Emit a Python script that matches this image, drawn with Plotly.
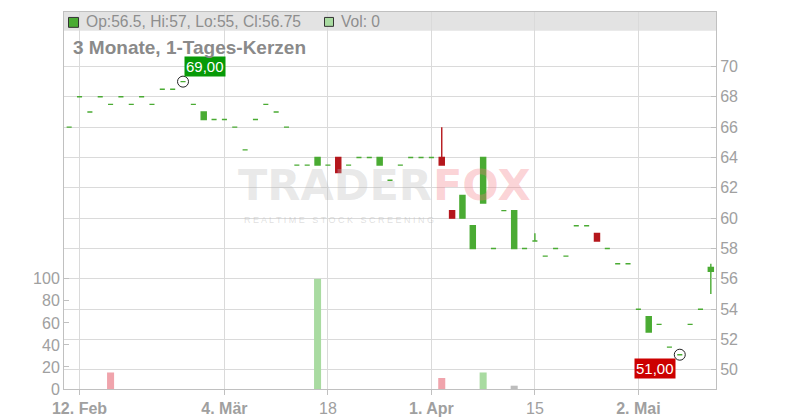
import plotly.graph_objects as go

# ---------------- data ----------------
days = list(range(63))
tick_days = [1, 15, 25, 35, 45, 55]
tick_labels = ["<b>12. Feb</b>", "<b>4. Mär</b>", "18", "<b>1. Apr</b>", "15", "<b>2. Mai</b>"]

open_ = [66, 68, 67, 68, 67.5, 68, 67.5, 68, 67.5, 68.5,
         68.5, 69, 67.5, 66.5, 66.5, 66.5, 66, 64.5, 66.5, 67.5,
         67, 66, 63.5, 63.5, 63.5, 63.5, 64, 63.5, 64, 64,
         63.5, 62.5, 63.5, 64, 64, 64, 64, 60.5, 60, 58,
         61, 58, 60.5, 58, 58, 58.5, 57.5, 58, 57.5, 59.5,
         59.5, 59, 58, 57, 57, 54, 52.5, 53, 51.5, 51,
         53, 54, 56.5]
high = [66, 68, 67, 68, 67.5, 68, 67.5, 68, 67.5, 68.5,
        68.5, 69, 67.5, 67, 66.5, 66.5, 66, 64.5, 66.5, 67.5,
        67, 66, 63.5, 63.5, 64, 63.5, 64, 63.5, 64, 64,
        64, 62.5, 63.5, 64, 64, 64, 66, 60.5, 61.5, 59.5,
        64, 58, 60.5, 60.5, 58, 59, 57.5, 58, 57.5, 59.5,
        59.5, 59, 58, 57, 57, 54, 53.5, 53, 51.5, 51,
        53, 54, 57]
low = [66, 68, 67, 68, 67.5, 68, 67.5, 68, 67.5, 68.5,
       68.5, 69, 67.5, 66.5, 66.5, 66.5, 66, 64.5, 66.5, 67.5,
       67, 66, 63.5, 63.5, 63.5, 63.5, 63, 63.5, 64, 64,
       63.5, 62.5, 63.5, 64, 64, 64, 63.5, 60, 60, 58,
       61, 58, 60.5, 58, 58, 58.5, 57.5, 58, 57.5, 59.5,
       59.5, 58.5, 58, 57, 57, 54, 52.5, 53, 51.5, 51,
       53, 54, 55]
close = [66, 68, 67, 68, 67.5, 68, 67.5, 68, 67.5, 68.5,
         68.5, 69, 67.5, 67, 66.5, 66.5, 66, 64.5, 66.5, 67.5,
         67, 66, 63.5, 63.5, 64, 63.5, 63, 63.5, 64, 64,
         64, 62.5, 63.5, 64, 64, 64, 63.5, 60, 61.5, 59.5,
         64, 58, 60.5, 60.5, 58, 58.5, 57.5, 58, 57.5, 59.5,
         59.5, 58.5, 58, 57, 57, 54, 53.5, 53, 51.5, 51,
         53, 54, 56.75]
volume = [0, 0, 0, 0, 15, 0, 0, 0, 0, 0,
          0, 0, 0, 0, 0, 0, 0, 0, 0, 0,
          0, 0, 0, 0, 100, 0, 0, 0, 0, 0,
          0, 0, 0, 0, 0, 0, 10, 0, 0, 0,
          15, 0, 0, 3, 0, 0, 0, 0, 0, 0,
          0, 0, 0, 0, 0, 0, 0, 0, 0, 0,
          0, 0, 0]
price_ticks = [50, 52, 54, 56, 58, 60, 62, 64, 66, 68, 70]
volume_ticks = [0, 20, 40, 60, 80, 100]

# ---------------- style ----------------
GREEN = "#4aab33"
RED = "#b5171c"
VOL_UP = "#a9dba1"
VOL_DOWN = "#f0a4ac"
VOL_FLAT = "#bdbdbd"
GRID = "#dadada"
AXIS = "#c0c0c0"
TXT = "#999999"
FONT = "Liberation Sans, Arial, sans-serif"

# the page body adds an 8px offset; the figure is sized to fill the rest
OFF = 8
W, H = 800 - OFF, 420 - OFF
L, R, T, B = 64 - OFF, 84, 11 - OFF, 28
PW, PH = W - L - R, H - T - B


def px(x):  # screen pixel -> paper
    return (x - OFF - L) / PW


def py(y):
    return (H + OFF - B - y) / PH


up = [i for i in days if close[i] >= open_[i]]
dn = [i for i in days if close[i] < open_[i]]

fig = go.Figure()


def candle(idx, color):
    fig.add_trace(go.Candlestick(
        x=[days[i] for i in idx],
        open=[open_[i] for i in idx], high=[high[i] for i in idx],
        low=[low[i] for i in idx], close=[close[i] for i in idx],
        increasing=dict(line=dict(color=color, width=1.4), fillcolor=color),
        decreasing=dict(line=dict(color=color, width=1.4), fillcolor=color),
        whiskerwidth=0, showlegend=False, hoverinfo="skip",
        xaxis="x", yaxis="y"))


candle(up, GREEN)
candle(dn, RED)

vol_colors = []
for i in days:
    prev = close[i - 1] if i > 0 else close[i]
    if close[i] > prev:
        vol_colors.append(VOL_UP)
    elif close[i] < prev:
        vol_colors.append(VOL_DOWN)
    else:
        vol_colors.append(VOL_FLAT)

fig.add_trace(go.Bar(x=days, y=volume, marker=dict(color=vol_colors, line=dict(width=0)),
                     width=0.68, yaxis="y2", showlegend=False, hoverinfo="skip"))

# max / min markers
imax = max(days, key=lambda i: high[i])
imin = min(days, key=lambda i: low[i])
fig.add_trace(go.Scatter(x=[days[imax], days[imin]], y=[high[imax], low[imin]], mode="markers",
                         marker=dict(symbol="circle-open", size=11, color="#222222", line=dict(width=1)),
                         showlegend=False, hoverinfo="skip", yaxis="y"))


def fmt(v):
    return f"{v:.2f}".replace(".", ",")


annotations = [
    dict(x=days[imax], y=high[imax], xref="x", yref="y", text=fmt(high[imax]), showarrow=False,
         xshift=22, yshift=15, bgcolor="#079a07", borderpad=1,
         font=dict(family=FONT, size=15, color="white")),
    dict(x=days[imin], y=low[imin], xref="x", yref="y", text=fmt(low[imin]), showarrow=False,
         xshift=-25, yshift=-14, bgcolor="#cc0000", borderpad=1,
         font=dict(family=FONT, size=15, color="white")),
    # header texts
    dict(x=px(84), y=py(21), xref="paper", yref="paper", xanchor="left", yanchor="middle",
         text=f"Op:{open_[-1]:g}, Hi:{high[-1]:g}, Lo:{low[-1]:g}, Cl:{close[-1]:g}",
         showarrow=False, font=dict(family=FONT, size=15.6, color="#8e8e8e")),
    dict(x=px(339), y=py(21), xref="paper", yref="paper", xanchor="left", yanchor="middle",
         text=f"Vol: {volume[-1]}", showarrow=False, font=dict(family=FONT, size=15.6, color="#8e8e8e")),
    dict(x=px(71), y=py(47), xref="paper", yref="paper", xanchor="left", yanchor="middle",
         text="<b>3 Monate, 1-Tages-Kerzen</b>", showarrow=False,
         font=dict(family=FONT, size=19, color="#8a8a8a")),
    # watermark
    dict(x=px(434), y=py(213), xref="paper", yref="paper", xanchor="right", yanchor="bottom",
         text="<b>TRADER</b>", showarrow=False,
         font=dict(family="DejaVu Sans, sans-serif", size=43, color="rgba(185,185,185,0.33)")),
    dict(x=px(431), y=py(213), xref="paper", yref="paper", xanchor="left", yanchor="bottom",
         text="<b>FOX</b>", showarrow=False,
         font=dict(family="DejaVu Sans, sans-serif", size=43, color="rgba(245,120,130,0.32)")),
    dict(x=px(339), y=py(214), xref="paper", yref="paper", xanchor="center", yanchor="top",
         text="R E A L T I M E   S T O C K   S C R E E N I N G", showarrow=False,
         font=dict(family=FONT, size=9, color="rgba(185,185,185,0.45)")),
]

shapes = [
    dict(type="rect", xref="paper", yref="paper", x0=0, x1=1, y0=py(30), y1=1,
         fillcolor="#e3e3e3", line=dict(width=0), layer="below"),
    dict(type="rect", xref="paper", yref="paper", x0=px(68.5), x1=px(78.5), y0=py(26.5), y1=py(16.5),
         fillcolor=GREEN, line=dict(color="#333333", width=1)),
    dict(type="rect", xref="paper", yref="paper", x0=px(324.5), x1=px(333.5), y0=py(25.5), y1=py(16.5),
         fillcolor=VOL_UP, line=dict(color="#333333", width=1)),
]

fig.update_layout(
    width=W, height=H,
    margin=dict(l=L, r=R, t=T, b=B, pad=0),
    paper_bgcolor="white", plot_bgcolor="white",
    showlegend=False,
    font=dict(family=FONT, color=TXT, size=16),
    xaxis=dict(range=[-0.5, 62.5], tickmode="array", tickvals=tick_days, ticktext=tick_labels,
               showgrid=True, gridcolor=GRID, gridwidth=1, zeroline=False,
               showline=True, linecolor=AXIS, linewidth=1, mirror=True,
               ticks="outside", ticklen=5, tickcolor=AXIS,
               tickfont=dict(family=FONT, size=16, color="#a0a0a0"),
               rangeslider=dict(visible=False), fixedrange=True),
    yaxis=dict(range=[48.74, 73.59], side="right", tickmode="array", tickvals=price_ticks,
               showgrid=True, gridcolor=GRID, gridwidth=1, zeroline=False,
               showline=True, linecolor=AXIS, linewidth=1,
               ticks="inside", ticklen=5, tickcolor=AXIS,
               tickfont=dict(family=FONT, size=16, color="#a0a0a0")),
    yaxis2=dict(range=[0, 342.3], overlaying="y", side="left", tickmode="array", tickvals=volume_ticks,
                showgrid=False, zeroline=False, showline=True, linecolor=AXIS, linewidth=1,
                ticks="inside", ticklen=5, tickcolor=AXIS,
                tickfont=dict(family=FONT, size=16, color="#a0a0a0")),
    annotations=annotations,
    shapes=shapes,
)

fig.write_html("out.html")
